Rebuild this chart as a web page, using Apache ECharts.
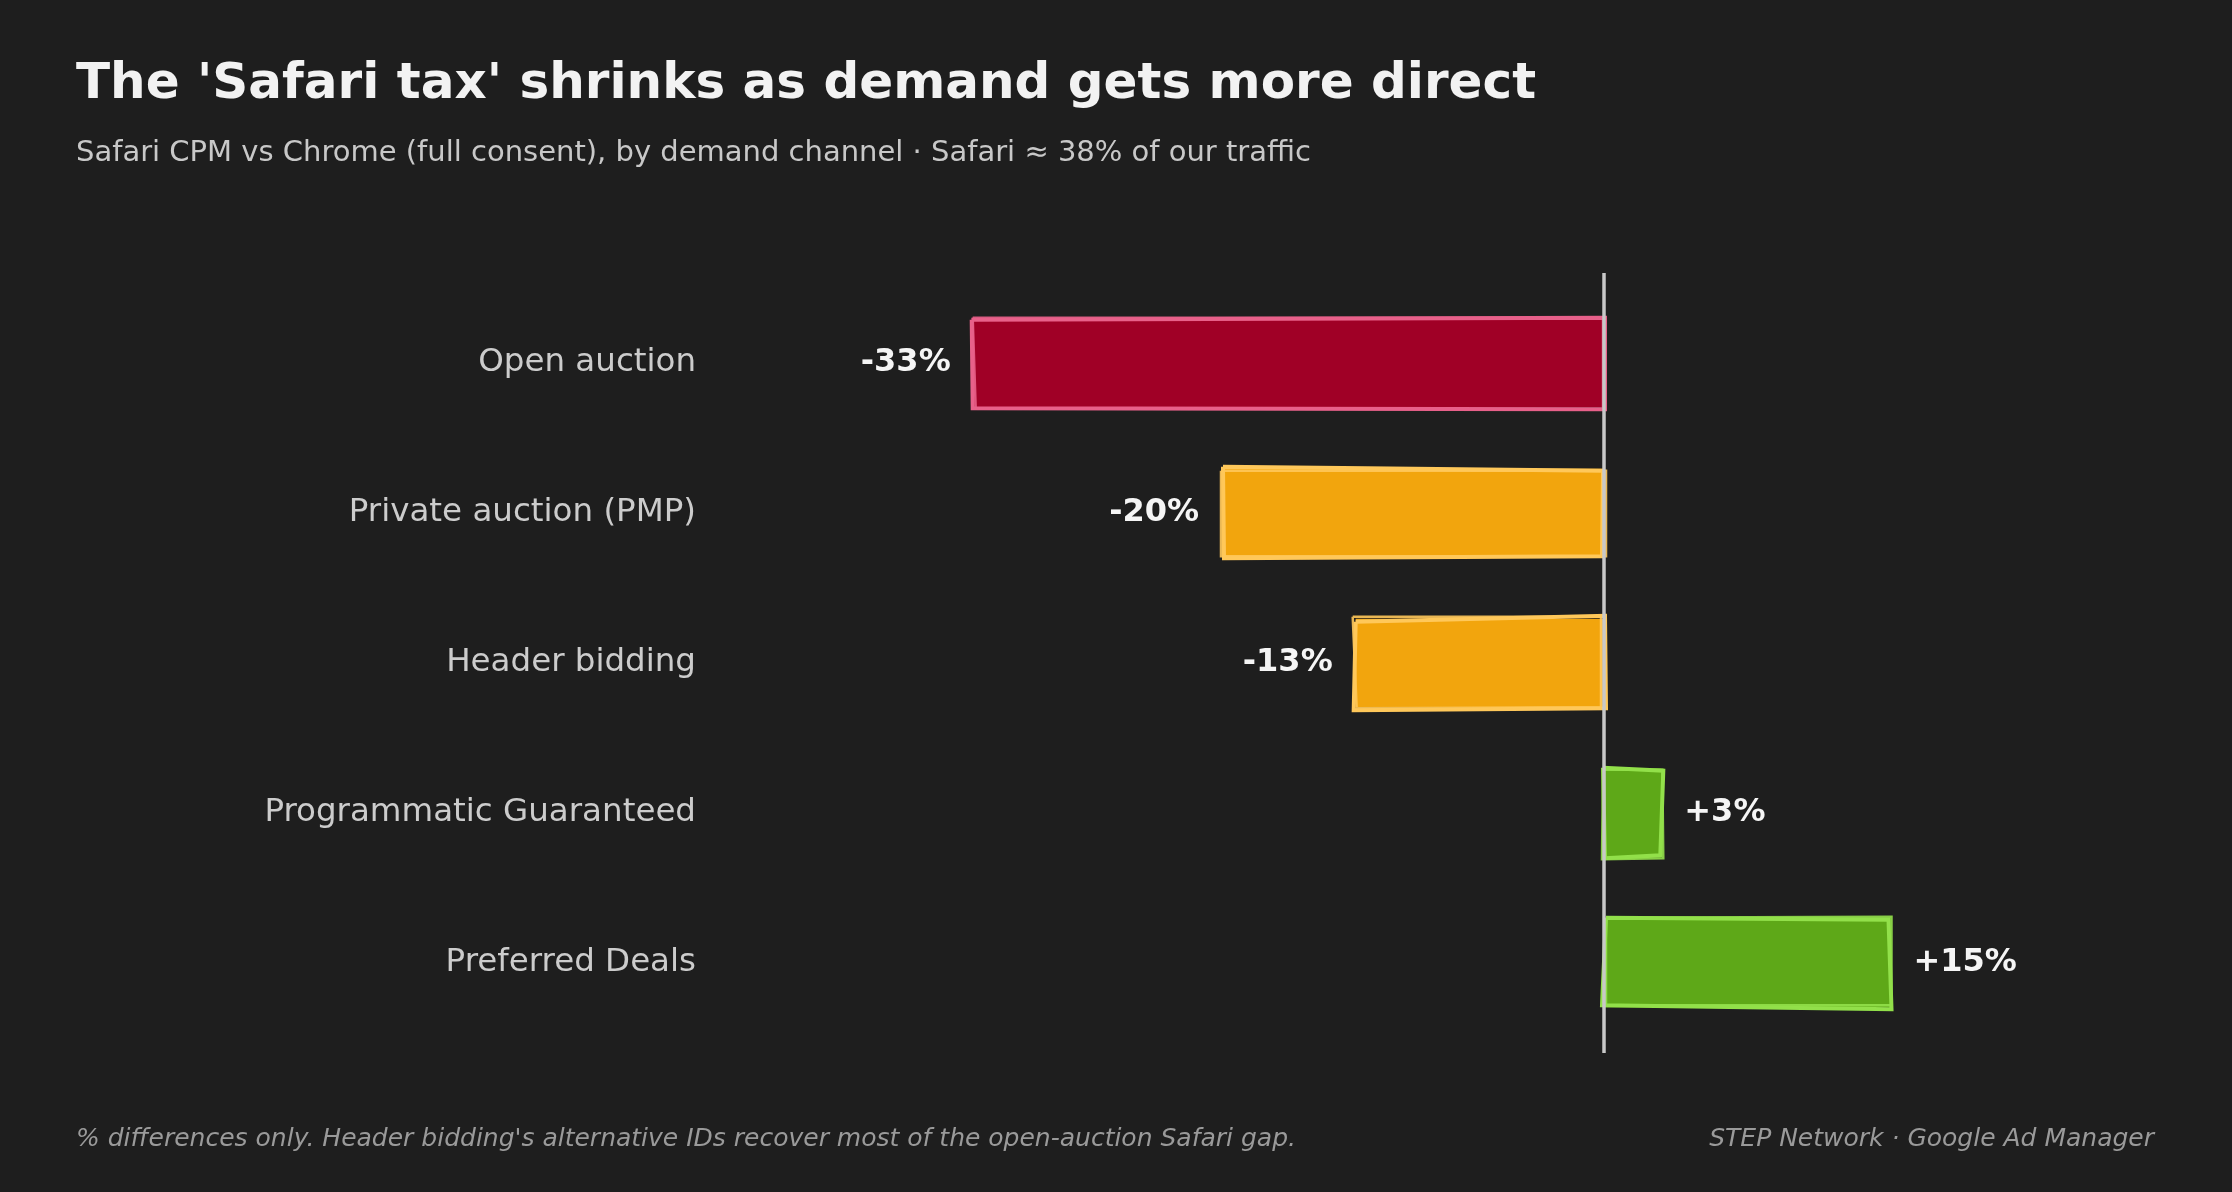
<!DOCTYPE html>
<html>
<head>
<meta charset="utf-8">
<script src="https://cdn.jsdelivr.net/npm/echarts@6/dist/echarts.min.js"></script>
<style>
  html, body { margin: 0; padding: 0; background: #1e1e1e; }
  #chart { width: 2232px; height: 1192px; }
</style>
</head>
<body>
<div id="chart"></div>
<script>
var channels = ['Open auction', 'Private auction (PMP)', 'Header bidding', 'Programmatic Guaranteed', 'Preferred Deals'];
var safariGap = [-33, -20, -13, 3, 15];
var fillColors = ['#a00026', '#f2a50d', '#f2a50d', '#5ea818', '#5ea818'];
var lineColors = ['#e8618a', '#ffc85a', '#ffc85a', '#92e04a', '#92e04a'];

// little fixed wobble for the hand drawn outline (px, per corner)
var wobble = [
  [[-2, 1], [1, -1], [1, 2], [-1, 1]],
  [[1, -2], [-1, 2], [-2, -1], [2, 1]],
  [[0, 3], [1, -3], [2, 1], [-2, 3]],
  [[-1, -1], [2, 2], [-1, -2], [1, 1]],
  [[2, -1], [-2, 1], [1, 2], [-2, -2]]
];

function sketchOutline(params, api) {
  var i = params.dataIndex;
  var v = api.value(0);
  var a = api.coord([0, i]);
  var b = api.coord([v, i]);
  var h = api.size([0, 1])[1] * 0.59;
  var x0 = Math.min(a[0], b[0]), x1 = Math.max(a[0], b[0]);
  var y0 = a[1] - h / 2, y1 = a[1] + h / 2;
  var w = wobble[i];
  var c = lineColors[i];
  var p1 = [[x0 + w[0][0], y0 + w[0][1]], [x1 + w[1][0], y0 + w[1][1]], [x1 + w[2][0], y1 + w[2][1]], [x0 + w[3][0], y1 + w[3][1]], [x0 + w[0][0], y0 + w[0][1]]];
  var p2 = [[x0 - w[3][1], y0 - w[2][0]], [x1 - w[0][1], y0 + w[3][0]], [x1 + w[1][1], y1 - w[0][0]], [x0 + w[2][1], y1 + w[1][0]], [x0 - w[3][1], y0 - w[2][0]]];
  return {
    type: 'group',
    children: [
      { type: 'polyline', shape: { points: p1 }, style: { fill: null, stroke: c, lineWidth: 4 } },
      { type: 'polyline', shape: { points: p2 }, style: { fill: null, stroke: c, lineWidth: 2.5, opacity: 0.9 } }
    ]
  };
}

var chart = echarts.init(document.getElementById('chart'));

var option = {
  backgroundColor: '#1e1e1e',
  animation: false,
  textStyle: { fontFamily: 'DejaVu Sans' },
  title: [
    { text: "The 'Safari tax' shrinks as demand gets more direct", left: 76, top: 60, padding: 0,
      textStyle: { color: '#f2f2f2', fontSize: 50, fontWeight: 'bold', fontFamily: 'DejaVu Sans' } },
    { text: 'Safari CPM vs Chrome (full consent), by demand channel · Safari ≈ 38% of our traffic', left: 76, top: 139, padding: 0,
      textStyle: { color: '#c8c8c8', fontSize: 29, fontWeight: 'normal', fontFamily: 'DejaVu Sans' } },
    { text: "% differences only. Header bidding's alternative IDs recover most of the open-auction Safari gap.", left: 76, top: 1127, padding: 0,
      textStyle: { color: '#9a9a9a', fontSize: 25, fontStyle: 'italic', fontWeight: 'normal', fontFamily: 'DejaVu Sans' } },
    { text: 'STEP Network · Google Ad Manager', right: 78, top: 1127, padding: 0,
      textStyle: { color: '#9a9a9a', fontSize: 25, fontStyle: 'italic', fontWeight: 'normal', fontFamily: 'DejaVu Sans' } }
  ],
  grid: [
    { left: 840, right: 246, top: 288, bottom: 154 },
    { left: 840, right: 246, top: 273, bottom: 139 }
  ],
  xAxis: [
    { type: 'value', gridIndex: 0, min: -40, max: 20, show: false },
    { type: 'value', gridIndex: 1, min: -40, max: 20, show: false }
  ],
  yAxis: [
    { type: 'category', gridIndex: 0, data: channels, inverse: true,
      axisLine: { show: false }, axisTick: { show: false }, splitLine: { show: false },
      axisLabel: { color: '#cccccc', fontSize: 32.5, margin: 144, fontFamily: 'DejaVu Sans' } },
    { type: 'value', gridIndex: 1, min: 0, max: 1, show: false }
  ],
  series: [
    {
      type: 'line', xAxisIndex: 1, yAxisIndex: 1, data: [], silent: true,
      markLine: { symbol: 'none', silent: true, label: { show: false },
        lineStyle: { color: '#c8c8c8', width: 3.5, type: 'solid' },
        data: [{ xAxis: 0 }] }
    },
    {
      type: 'bar', xAxisIndex: 0, yAxisIndex: 0, barWidth: '59%', z: 2,
      data: safariGap.map(function (v, i) {
        return {
          value: v,
          itemStyle: { color: fillColors[i] },
          label: { position: v < 0 ? 'left' : 'right' }
        };
      }),
      label: {
        show: true, distance: 23, color: '#f5f5f5', fontSize: 32, fontWeight: 'bold', fontFamily: 'DejaVu Sans',
        formatter: function (p) { return (p.value > 0 ? '+' : '') + p.value + '%'; }
      }
    },
    {
      type: 'custom', xAxisIndex: 0, yAxisIndex: 0, z: 3, silent: true,
      renderItem: sketchOutline,
      data: safariGap.map(function (v) { return [v]; }),
      encode: { x: 0 }
    }
  ]
};

chart.setOption(option);
</script>
</body>
</html>
